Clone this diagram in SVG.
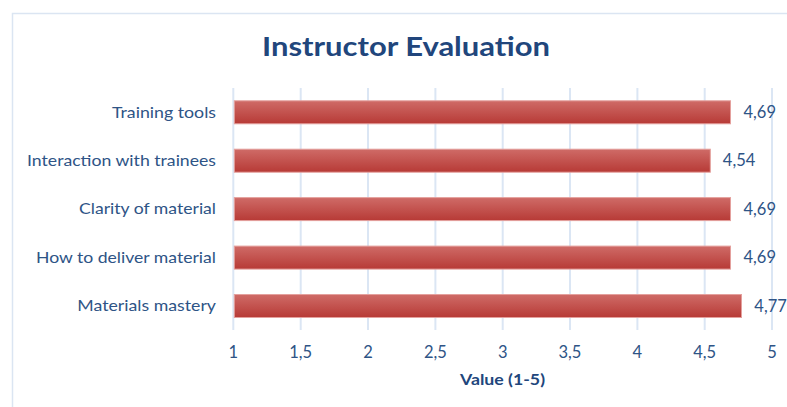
<svg xmlns="http://www.w3.org/2000/svg" width="787" height="407" viewBox="0 0 787 407">
<defs>
<linearGradient id="barGrad" x1="0" y1="0" x2="0" y2="1">
<stop offset="0" stop-color="#cf6b67"/>
<stop offset="1" stop-color="#b73a36"/>
</linearGradient>
</defs>
<style>
.lbl{font-family:Lato,"Liberation Sans",sans-serif;font-size:15px;fill:#2e5486;}
.num{font-family:Lato,"Liberation Sans",sans-serif;font-size:16.5px;fill:#2e5486;}
.cat{text-anchor:end;}
.tick{text-anchor:middle;}
.grid{stroke:#dbe6f4;stroke-width:2;}
.bar{fill:url(#barGrad);stroke:#e4a09d;stroke-width:1;}
.title{font-family:Lato,"Liberation Sans",sans-serif;font-size:26px;font-weight:bold;fill:#21467c;}
.axt{font-family:Lato,"Liberation Sans",sans-serif;font-size:15px;font-weight:bold;fill:#21467c;text-anchor:middle;}
</style>
<rect x="0" y="0" width="787" height="407" fill="#ffffff"/>
<path d="M12.5 407 V13.5 H787" fill="none" stroke="#dbe5f2" stroke-width="1.5"/>
<text id="title" class="title" x="406" y="56" text-anchor="middle" textLength="288" lengthAdjust="spacingAndGlyphs">Instructor Evaluation</text>
<g id="gridlines">
<line class="grid" x1="233.3" y1="88" x2="233.3" y2="330"/>
<line class="grid" x1="300.7" y1="88" x2="300.7" y2="330"/>
<line class="grid" x1="368" y1="88" x2="368" y2="330"/>
<line class="grid" x1="435.4" y1="88" x2="435.4" y2="330"/>
<line class="grid" x1="502.7" y1="88" x2="502.7" y2="330"/>
<line class="grid" x1="570" y1="88" x2="570" y2="330"/>
<line class="grid" x1="637.4" y1="88" x2="637.4" y2="330"/>
<line class="grid" x1="704.7" y1="88" x2="704.7" y2="330"/>
<line class="grid" x1="772" y1="88" x2="772" y2="330"/>
</g>
<g id="bar-training-tools">
<rect class="bar" x="234.3" y="100.8" width="496.2" height="23"/>
<text class="lbl cat" x="216" y="117.5" textLength="104" lengthAdjust="spacingAndGlyphs">Training tools</text>
<text class="num" x="743.5" y="117.8" textLength="32.5" lengthAdjust="spacingAndGlyphs">4,69</text>
</g>
<g id="bar-interaction">
<rect class="bar" x="234.3" y="149.2" width="476" height="23"/>
<text class="lbl cat" x="216" y="166" textLength="189" lengthAdjust="spacingAndGlyphs">Interaction with trainees</text>
<text class="num" x="722.8" y="166.3" textLength="32.5" lengthAdjust="spacingAndGlyphs">4,54</text>
</g>
<g id="bar-clarity">
<rect class="bar" x="234.3" y="197.6" width="496.2" height="23"/>
<text class="lbl cat" x="216" y="214.4" textLength="137" lengthAdjust="spacingAndGlyphs">Clarity of material</text>
<text class="num" x="743.5" y="214.7" textLength="32.5" lengthAdjust="spacingAndGlyphs">4,69</text>
</g>
<g id="bar-deliver">
<rect class="bar" x="234.3" y="246.1" width="496.2" height="23"/>
<text class="lbl cat" x="216" y="262.8" textLength="180" lengthAdjust="spacingAndGlyphs">How to deliver material</text>
<text class="num" x="743.5" y="263.1" textLength="32.5" lengthAdjust="spacingAndGlyphs">4,69</text>
</g>
<g id="bar-mastery">
<rect class="bar" x="234.3" y="294.5" width="507.2" height="23"/>
<text class="lbl cat" x="216" y="311.2" textLength="138.7" lengthAdjust="spacingAndGlyphs">Materials mastery</text>
<text class="num" x="754.3" y="311.5" textLength="32.5" lengthAdjust="spacingAndGlyphs">4,77</text>
</g>
<g id="x-axis">
<text class="num tick" x="233.3" y="357.5">1</text>
<text class="num tick" x="300.7" y="357.5">1,5</text>
<text class="num tick" x="368" y="357.5">2</text>
<text class="num tick" x="435.4" y="357.5">2,5</text>
<text class="num tick" x="502.7" y="357.5">3</text>
<text class="num tick" x="570" y="357.5">3,5</text>
<text class="num tick" x="637.4" y="357.5">4</text>
<text class="num tick" x="704.7" y="357.5">4,5</text>
<text class="num tick" x="772" y="357.5">5</text>
<text class="axt" x="502.5" y="385" textLength="85" lengthAdjust="spacingAndGlyphs">Value (1-5)</text>
</g>
</svg>
